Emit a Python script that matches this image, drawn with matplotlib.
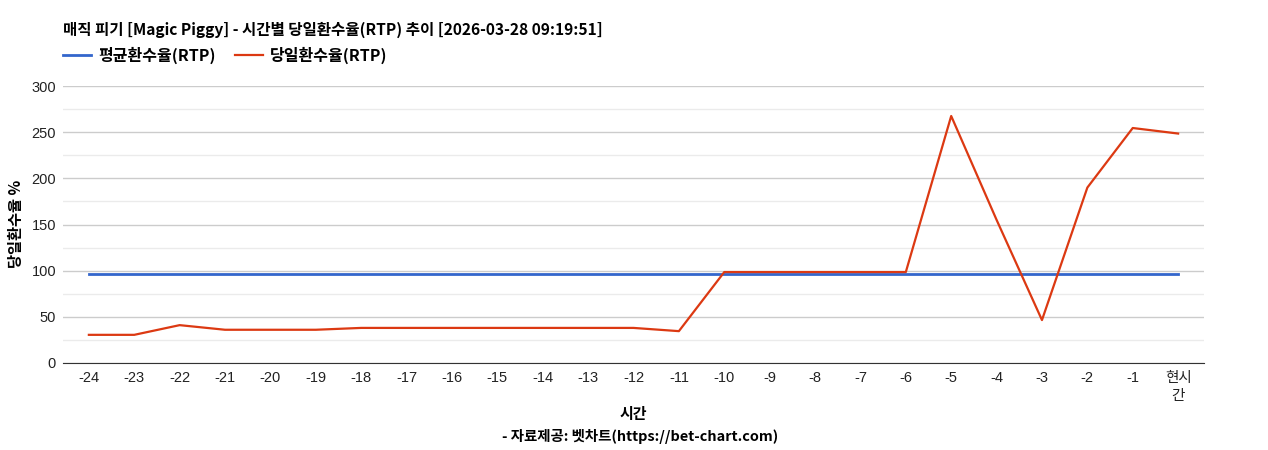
import numpy as np
import matplotlib
matplotlib.use("Agg")
import matplotlib.pyplot as plt
from matplotlib.ticker import MultipleLocator

plt.rcParams['font.family'] = ['Liberation Sans', 'Noto Sans CJK KR', 'DejaVu Sans']

# 데이터
hours = ['-24', '-23', '-22', '-21', '-20', '-19', '-18', '-17', '-16', '-15',
         '-14', '-13', '-12', '-11', '-10', '-9', '-8', '-7', '-6', '-5',
         '-4', '-3', '-2', '-1', '현시\n간']
avg_rtp = [96.5] * 25
today_rtp = [30.5, 30.5, 41, 36, 36, 36, 38, 38, 38, 38,
             38, 38, 38, 34.5, 98.5, 98.5, 98.5, 98.5, 98.5, 267.5,
             155, 46.5, 190, 254.5, 248.5]

title = "매직 피기 [Magic Piggy] - 시간별 당일환수율(RTP) 추이 [2026-03-28 09:19:51]"
kr = ['Noto Sans CJK KR', 'DejaVu Sans']

fig = plt.figure(figsize=(12.68, 4.5), dpi=100)
ax = fig.add_axes([63 / 1268, 87 / 450, 1141 / 1268, 277 / 450])

x = np.arange(len(hours))
ax.plot(x, avg_rtp, color='#3366cc', lw=2, label='평균환수율(RTP)')
ax.plot(x, today_rtp, color='#dc3912', lw=1.6, label='당일환수율(RTP)')

ax.set_xlim(-0.57, len(hours) - 0.43)
ax.set_ylim(0, 300)
ax.yaxis.set_major_locator(MultipleLocator(50))
ax.yaxis.set_minor_locator(MultipleLocator(25))
ax.grid(which='major', axis='y', color='#cccccc', lw=1)
ax.grid(which='minor', axis='y', color='#ebebeb', lw=1)
ax.set_axisbelow(True)
for s in ['top', 'right', 'left']:
    ax.spines[s].set_visible(False)
ax.spines['bottom'].set_color('#333333')
ax.tick_params(which='both', length=0)
ax.tick_params(axis='y', pad=5, labelsize=10.5, labelcolor='#222222')
ax.tick_params(axis='x', pad=6, labelsize=10.5, labelcolor='#222222')
ax.set_xticks(x)
ax.set_xticklabels(hours, linespacing=1.35)

ax.set_ylabel('당일환수율 %', fontsize=11, fontweight='bold', family=kr)
ax.yaxis.set_label_coords(24 / 1268, 1 - 224 / 450, transform=fig.transFigure)
fig.text(633 / 1268, 1 - 414 / 450, '시간', ha='center', va='center',
         fontsize=10.8, fontweight='bold', family=kr)
fig.text(640 / 1268, 1 - 437 / 450, '- 자료제공: 벳차트(https://bet-chart.com)',
         ha='center', va='center', fontsize=10.4, fontweight='bold', family=kr)

fig.text(63 / 1268, 1 - 30 / 450, title, ha='left', va='center',
         fontsize=11.2, fontweight='bold', family=kr)

leg = ax.legend(loc='center left', bbox_to_anchor=(60 / 1268, 1 - 55 / 450),
                bbox_transform=fig.transFigure, ncol=2, frameon=False,
                handlelength=1.75, handletextpad=0.45, columnspacing=1.2,
                borderpad=0.2, borderaxespad=0,
                prop={'family': kr, 'weight': 'bold', 'size': 11.5})

fig.savefig('out.png', dpi=100)
